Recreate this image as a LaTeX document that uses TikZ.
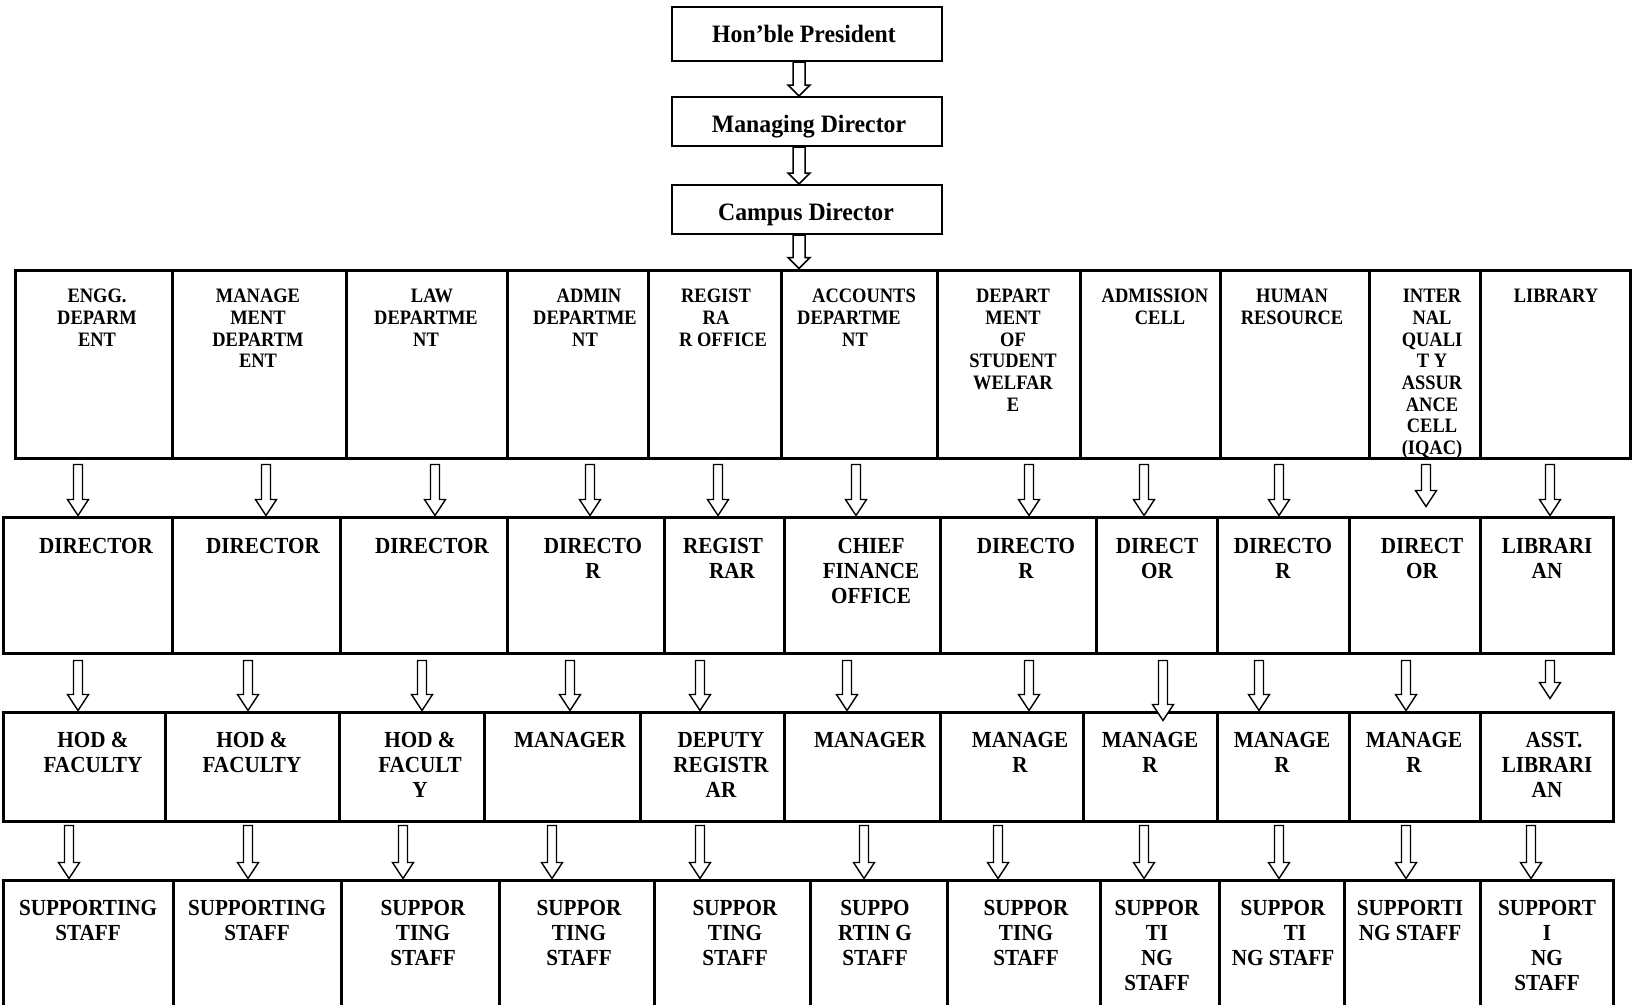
\documentclass[tikz,border=0pt]{standalone}
\usepackage{fontspec}
\setmainfont{Liberation Serif}
\newfontfamily\rowfont{Liberation Serif}[FakeStretch=0.92]
\newfontfamily\hdrfont{Liberation Serif}[FakeStretch=0.9]
\newfontfamily\topfont{Liberation Serif}[FakeStretch=0.95]
\usetikzlibrary{calc,fit}
\tikzset{
  cellbox/.style={draw, line width=3pt, inner sep=0pt},
  topbox/.style={draw, line width=2pt, inner sep=0pt},
  toptxt/.style={inner sep=0pt, anchor=base, font=\topfont\bfseries\fontsize{25}{28}\selectfont},
  hdrtxt/.style={inner sep=0pt, anchor=north, align=center, font=\hdrfont\bfseries\fontsize{20.5}{21.7}\selectfont},
  rowtxt/.style={inner sep=0pt, anchor=north, align=center, font=\rowfont\bfseries\fontsize{23}{25}\selectfont},
  tarrow/.style={draw, line width=1.5pt, fill=white,
    to path={let \p1=(\tikztostart), \p2=(\tikztotarget) in
      (\x1-6pt,\y1) -- (\x1-6pt,\y2+11pt) -- (\x1-11pt,\y2+11pt) -- (\x1,\y2)
      -- (\x1+11pt,\y2+11pt) -- (\x1+6pt,\y2+11pt) -- (\x1+6pt,\y1) -- cycle}},
  rarrow/.style 2 args={draw, line width=1.4pt, fill=white,
    to path={let \p1=(\tikztostart), \p2=(\tikztotarget) in
      (\x1-4.5pt,\y1-#1) -- (\x1-4.5pt,\y2+#2+16pt) -- (\x1-10.5pt,\y2+#2+16pt) -- (\x1,\y2+#2)
      -- (\x1+10.5pt,\y2+#2+16pt) -- (\x1+4.5pt,\y2+#2+16pt) -- (\x1+4.5pt,\y1-#1) -- cycle}},
}
\begin{document}
\begin{tikzpicture}[x=1pt,y=-1pt]
\useasboundingbox (0,0) rectangle (1632,1004);
\fill[white] (0,0) rectangle (1632,1004);
\clip (0,0) rectangle (1632,1004);

% top chain
\node[topbox, fit={(672,7)(942,61)}] (pres) {};
\node[topbox, fit={(672,97)(942,146)}] (md) {};
\node[topbox, fit={(672,185)(942,234)}] (cd) {};
\node[toptxt] (pres-t) at (804,42) {Hon’ble President};
\node[toptxt] (md-t) at (809,132) {Managing Director};
\node[toptxt] (cd-t) at (806,220) {Campus Director};

% row 1
\node[cellbox, fit={(15,270)(172,458)}] (r1a) {};
\node[cellbox, fit={(172,270)(346,458)}] (r1b) {};
\node[cellbox, fit={(346,270)(507,458)}] (r1c) {};
\node[cellbox, fit={(507,270)(648,458)}] (r1d) {};
\node[cellbox, fit={(648,270)(781,458)}] (r1e) {};
\node[cellbox, fit={(781,270)(937,458)}] (r1f) {};
\node[cellbox, fit={(937,270)(1080,458)}] (r1g) {};
\node[cellbox, fit={(1080,270)(1220,458)}] (r1h) {};
\node[cellbox, fit={(1220,270)(1369,458)}] (r1i) {};
\node[cellbox, fit={(1369,270)(1480,458)}] (r1j) {};
\node[cellbox, fit={(1480,270)(1630,458)}] (r1k) {};
\node[hdrtxt] (r1a-t) at (97,289) {ENGG.\\DEPARM\\ENT};
\node[hdrtxt] (r1b-t) at (258,289) {MANAGE\\MENT\\DEPARTM\\ENT};
\node[hdrtxt] (r1c-t) at (426,289) {\hspace*{12pt}LAW\\DEPARTME\\NT};
\node[hdrtxt] (r1d-t) at (585,289) {\hspace*{8pt}ADMIN\\DEPARTME\\NT};
\node[hdrtxt] (r1e-t) at (716,289) {REGIST\\RA\\\hspace*{14pt}R OFFICE};
\node[hdrtxt] (r1f-t) at (849,289) {\hspace*{30pt}ACCOUNTS\\DEPARTME\\\hspace*{12pt}NT};
\node[hdrtxt] (r1g-t) at (1013,289) {DEPART\\MENT\\OF\\STUDENT\\WELFAR\\E};
\node[hdrtxt] (r1h-t) at (1155,289) {ADMISSION\\\hspace*{10pt}CELL};
\node[hdrtxt] (r1i-t) at (1292,289) {HUMAN\\RESOURCE};
\node[hdrtxt] (r1j-t) at (1432,289) {INTER\\NAL\\QUALI\\T Y\\ASSUR\\ANCE\\CELL\\(IQAC)};
\node[hdrtxt] (r1k-t) at (1556,289) {LIBRARY};

% row 2
\node[cellbox, fit={(3,517)(172,653)}] (r2a) {};
\node[cellbox, fit={(172,517)(340,653)}] (r2b) {};
\node[cellbox, fit={(340,517)(507,653)}] (r2c) {};
\node[cellbox, fit={(507,517)(664,653)}] (r2d) {};
\node[cellbox, fit={(664,517)(784,653)}] (r2e) {};
\node[cellbox, fit={(784,517)(940,653)}] (r2f) {};
\node[cellbox, fit={(940,517)(1096,653)}] (r2g) {};
\node[cellbox, fit={(1096,517)(1217,653)}] (r2h) {};
\node[cellbox, fit={(1217,517)(1349,653)}] (r2i) {};
\node[cellbox, fit={(1349,517)(1480,653)}] (r2j) {};
\node[cellbox, fit={(1480,517)(1613,653)}] (r2k) {};
\node[rowtxt] (r2a-t) at (96,538) {DIRECTOR};
\node[rowtxt] (r2b-t) at (263,538) {DIRECTOR};
\node[rowtxt] (r2c-t) at (432,538) {DIRECTOR};
\node[rowtxt] (r2d-t) at (593,538) {DIRECTO\\R};
\node[rowtxt] (r2e-t) at (723,538) {REGIST\\\hspace*{18pt}RAR};
\node[rowtxt] (r2f-t) at (871,538) {CHIEF\\FINANCE\\OFFICE};
\node[rowtxt] (r2g-t) at (1026,538) {DIRECTO\\R};
\node[rowtxt] (r2h-t) at (1157,538) {DIRECT\\OR};
\node[rowtxt] (r2i-t) at (1283,538) {DIRECTO\\R};
\node[rowtxt] (r2j-t) at (1422,538) {DIRECT\\OR};
\node[rowtxt] (r2k-t) at (1547,538) {LIBRARI\\AN};

% row 3
\node[cellbox, fit={(3,712)(165,821)}] (r3a) {};
\node[cellbox, fit={(165,712)(339,821)}] (r3b) {};
\node[cellbox, fit={(339,712)(484,821)}] (r3c) {};
\node[cellbox, fit={(484,712)(640,821)}] (r3d) {};
\node[cellbox, fit={(640,712)(784,821)}] (r3e) {};
\node[cellbox, fit={(784,712)(940,821)}] (r3f) {};
\node[cellbox, fit={(940,712)(1083,821)}] (r3g) {};
\node[cellbox, fit={(1083,712)(1217,821)}] (r3h) {};
\node[cellbox, fit={(1217,712)(1349,821)}] (r3i) {};
\node[cellbox, fit={(1349,712)(1480,821)}] (r3j) {};
\node[cellbox, fit={(1480,712)(1613,821)}] (r3k) {};
\node[rowtxt] (r3a-t) at (93,732) {HOD \&\\FACULTY};
\node[rowtxt] (r3b-t) at (252,732) {HOD \&\\FACULTY};
\node[rowtxt] (r3c-t) at (420,732) {HOD \&\\FACULT\\Y};
\node[rowtxt] (r3d-t) at (570,732) {MANAGER};
\node[rowtxt] (r3e-t) at (721,732) {DEPUTY\\REGISTR\\AR};
\node[rowtxt] (r3f-t) at (870,732) {MANAGER};
\node[rowtxt] (r3g-t) at (1020,732) {MANAGE\\R};
\node[rowtxt] (r3h-t) at (1150,732) {MANAGE\\R};
\node[rowtxt] (r3i-t) at (1282,732) {MANAGE\\R};
\node[rowtxt] (r3j-t) at (1414,732) {MANAGE\\R};
\node[rowtxt] (r3k-t) at (1547,732) {\hspace*{14pt}ASST.\\LIBRARI\\AN};

% row 4
\node[cellbox, fit={(3,880)(173,1015)}] (r4a) {};
\node[cellbox, fit={(173,880)(341,1015)}] (r4b) {};
\node[cellbox, fit={(341,880)(499,1015)}] (r4c) {};
\node[cellbox, fit={(499,880)(654,1015)}] (r4d) {};
\node[cellbox, fit={(654,880)(810,1015)}] (r4e) {};
\node[cellbox, fit={(810,880)(947,1015)}] (r4f) {};
\node[cellbox, fit={(947,880)(1100,1015)}] (r4g) {};
\node[cellbox, fit={(1100,880)(1219,1015)}] (r4h) {};
\node[cellbox, fit={(1219,880)(1344,1015)}] (r4i) {};
\node[cellbox, fit={(1344,880)(1480,1015)}] (r4j) {};
\node[cellbox, fit={(1480,880)(1613,1015)}] (r4k) {};
\node[rowtxt] (r4a-t) at (88,900) {SUPPORTING\\STAFF};
\node[rowtxt] (r4b-t) at (257,900) {SUPPORTING\\STAFF};
\node[rowtxt] (r4c-t) at (423,900) {SUPPOR\\TING\\STAFF};
\node[rowtxt] (r4d-t) at (579,900) {SUPPOR\\TING\\STAFF};
\node[rowtxt] (r4e-t) at (735,900) {SUPPOR\\TING\\STAFF};
\node[rowtxt] (r4f-t) at (875,900) {SUPPO\\RTIN G\\STAFF};
\node[rowtxt] (r4g-t) at (1026,900) {SUPPOR\\TING\\STAFF};
\node[rowtxt] (r4h-t) at (1157,900) {SUPPOR\\TI\\NG\\STAFF};
\node[rowtxt] (r4i-t) at (1283,900) {SUPPOR\\\hspace*{24pt}TI\\NG STAFF};
\node[rowtxt] (r4j-t) at (1410,900) {SUPPORTI\\NG STAFF};
\node[rowtxt] (r4k-t) at (1547,900) {SUPPORT\\I\\NG\\STAFF};

% top arrows
\draw[tarrow] (pres.south -| 799,0) to (md.north -| 799,0);
\draw[tarrow] (md.south -| 799,0) to (cd.north -| 799,0);
\draw[tarrow] (cd.south -| 799,0) to (r1f.north -| 799,0);

% row 1 -> row 2
\draw[rarrow={5pt}{0pt}] (r1a.south -| 78,0) to (r2a.north -| 78,0);
\draw[rarrow={5pt}{0pt}] (r1b.south -| 266,0) to (r2b.north -| 266,0);
\draw[rarrow={5pt}{0pt}] (r1c.south -| 435,0) to (r2c.north -| 435,0);
\draw[rarrow={5pt}{0pt}] (r1d.south -| 590,0) to (r2d.north -| 590,0);
\draw[rarrow={5pt}{0pt}] (r1e.south -| 718,0) to (r2e.north -| 718,0);
\draw[rarrow={5pt}{0pt}] (r1f.south -| 856,0) to (r2f.north -| 856,0);
\draw[rarrow={5pt}{0pt}] (r1g.south -| 1029,0) to (r2g.north -| 1029,0);
\draw[rarrow={5pt}{0pt}] (r1h.south -| 1144,0) to (r2h.north -| 1144,0);
\draw[rarrow={5pt}{0pt}] (r1i.south -| 1279,0) to (r2i.north -| 1279,0);
\draw[rarrow={5pt}{9pt}] (r1j.south -| 1426,0) to (r2j.north -| 1426,0);
\draw[rarrow={5pt}{0pt}] (r1k.south -| 1550,0) to (r2k.north -| 1550,0);

% row 2 -> row 3
\draw[rarrow={6pt}{0pt}] (r2a.south -| 78,0) to (r3a.north -| 78,0);
\draw[rarrow={6pt}{0pt}] (r2b.south -| 248,0) to (r3b.north -| 248,0);
\draw[rarrow={6pt}{0pt}] (r2c.south -| 422,0) to (r3c.north -| 422,0);
\draw[rarrow={6pt}{0pt}] (r2d.south -| 570,0) to (r3d.north -| 570,0);
\draw[rarrow={6pt}{0pt}] (r2e.south -| 700,0) to (r3e.north -| 700,0);
\draw[rarrow={6pt}{0pt}] (r2f.south -| 847,0) to (r3f.north -| 847,0);
\draw[rarrow={6pt}{0pt}] (r2g.south -| 1029,0) to (r3g.north -| 1029,0);
\draw[rarrow={6pt}{-10pt}] (r2h.south -| 1163,0) to (r3h.north -| 1163,0);
\draw[rarrow={6pt}{0pt}] (r2i.south -| 1259,0) to (r3i.north -| 1259,0);
\draw[rarrow={6pt}{0pt}] (r2j.south -| 1406,0) to (r3j.north -| 1406,0);
\draw[rarrow={6pt}{12pt}] (r2k.south -| 1550,0) to (r3k.north -| 1550,0);

% row 3 -> row 4
\draw[rarrow={3pt}{0pt}] (r3a.south -| 69,0) to (r4a.north -| 69,0);
\draw[rarrow={3pt}{0pt}] (r3b.south -| 248,0) to (r4b.north -| 248,0);
\draw[rarrow={3pt}{0pt}] (r3c.south -| 403,0) to (r4c.north -| 403,0);
\draw[rarrow={3pt}{0pt}] (r3d.south -| 552,0) to (r4d.north -| 552,0);
\draw[rarrow={3pt}{0pt}] (r3e.south -| 700,0) to (r4e.north -| 700,0);
\draw[rarrow={3pt}{0pt}] (r3f.south -| 864,0) to (r4f.north -| 864,0);
\draw[rarrow={3pt}{0pt}] (r3g.south -| 998,0) to (r4g.north -| 998,0);
\draw[rarrow={3pt}{0pt}] (r3h.south -| 1144,0) to (r4h.north -| 1144,0);
\draw[rarrow={3pt}{0pt}] (r3i.south -| 1279,0) to (r4i.north -| 1279,0);
\draw[rarrow={3pt}{0pt}] (r3j.south -| 1406,0) to (r4j.north -| 1406,0);
\draw[rarrow={3pt}{0pt}] (r3k.south -| 1531,0) to (r4k.north -| 1531,0);
\end{tikzpicture}
\end{document}
